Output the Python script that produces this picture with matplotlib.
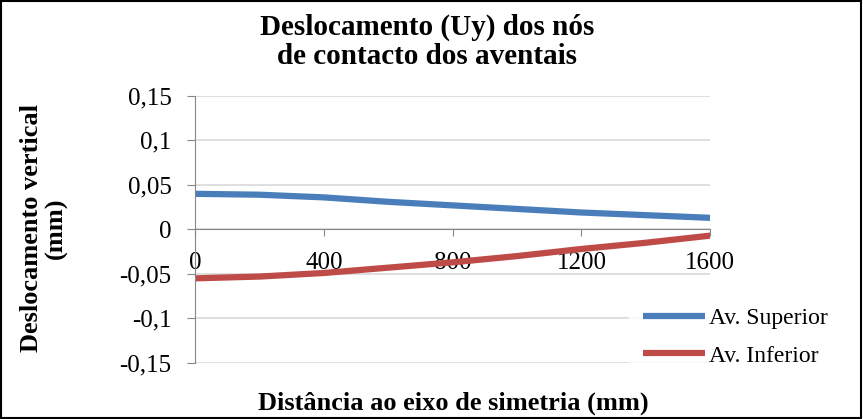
import matplotlib.pyplot as plt
from matplotlib.ticker import FuncFormatter, MultipleLocator
from matplotlib.patches import Rectangle

# data
distancia = [0, 200, 400, 600, 800, 1000, 1200, 1400, 1600]
av_superior = [0.040, 0.039, 0.036, 0.031, 0.027, 0.023, 0.019, 0.016, 0.013]
av_inferior = [-0.055, -0.053, -0.049, -0.043, -0.037, -0.030, -0.022, -0.015, -0.007]
x_ticks = [0, 400, 800, 1200, 1600]

plt.rcParams['font.family'] = ['Liberation Serif', 'DejaVu Serif']

fig = plt.figure(figsize=(8.63, 4.19), dpi=100)
ax = fig.add_axes([0.226, 0.134, 0.597, 0.637])

ax.plot(distancia, av_superior, color='#4a7ebb', lw=4.5, label='Av. Superior', solid_capstyle='butt')
ax.plot(distancia, av_inferior, color='#be4b48', lw=4.5, label='Av. Inferior', solid_capstyle='butt')

ax.set_xlim(0, 1600)
ax.set_ylim(-0.15, 0.15)
ax.yaxis.set_major_locator(MultipleLocator(0.05))
ax.set_xticks(x_ticks)

def virgula(v, pos):
    s = ('%.2f' % v).rstrip('0').rstrip('.')
    if s in ('-0', '0'):
        s = '0'
    return s.replace('.', ',')

ax.yaxis.set_major_formatter(FuncFormatter(virgula))
ax.grid(axis='y', color='#d9d9d9', lw=1.2)
ax.set_axisbelow(True)

for s in ['top', 'right']:
    ax.spines[s].set_visible(False)
ax.spines['left'].set_color('#868686')
ax.spines['bottom'].set_position(('data', 0))
ax.spines['bottom'].set_color('#868686')
ax.tick_params(axis='y', direction='out', length=6, color='#868686', labelsize=18, pad=11)
ax.tick_params(axis='x', direction='out', length=5, color='#868686', labelsize=18, pad=11)

fig.text(0.495, 0.9, 'Deslocamento (Uy) dos nós\nde contacto dos aventais',
         ha='center', va='center', fontsize=21, fontweight='bold', linespacing=1.12)
fig.text(0.051, 0.455, 'Deslocamento vertical\n(mm)', ha='center', va='center',
         rotation=90, fontsize=19, fontweight='bold', linespacing=1.12)
fig.text(0.525, 0.037, 'Distância ao eixo de simetria (mm)', ha='center', va='center',
         fontsize=19, fontweight='bold')

leg = ax.legend(loc='center left', bbox_to_anchor=(629 / 863, 1 - 337 / 419),
                bbox_transform=fig.transFigure, frameon=True, fontsize=17,
                handlelength=2.6, handletextpad=0.2, labelspacing=0.68,
                borderpad=0.6, borderaxespad=0)
leg.get_frame().set_facecolor('white')
leg.get_frame().set_edgecolor('white')
leg.get_frame().set_boxstyle('square', pad=0)

fig.patches.append(Rectangle((0.001, 0.002), 0.997, 0.996, transform=fig.transFigure,
                             fill=False, edgecolor='black', lw=1.5))

fig.savefig('out.png', dpi=100)
